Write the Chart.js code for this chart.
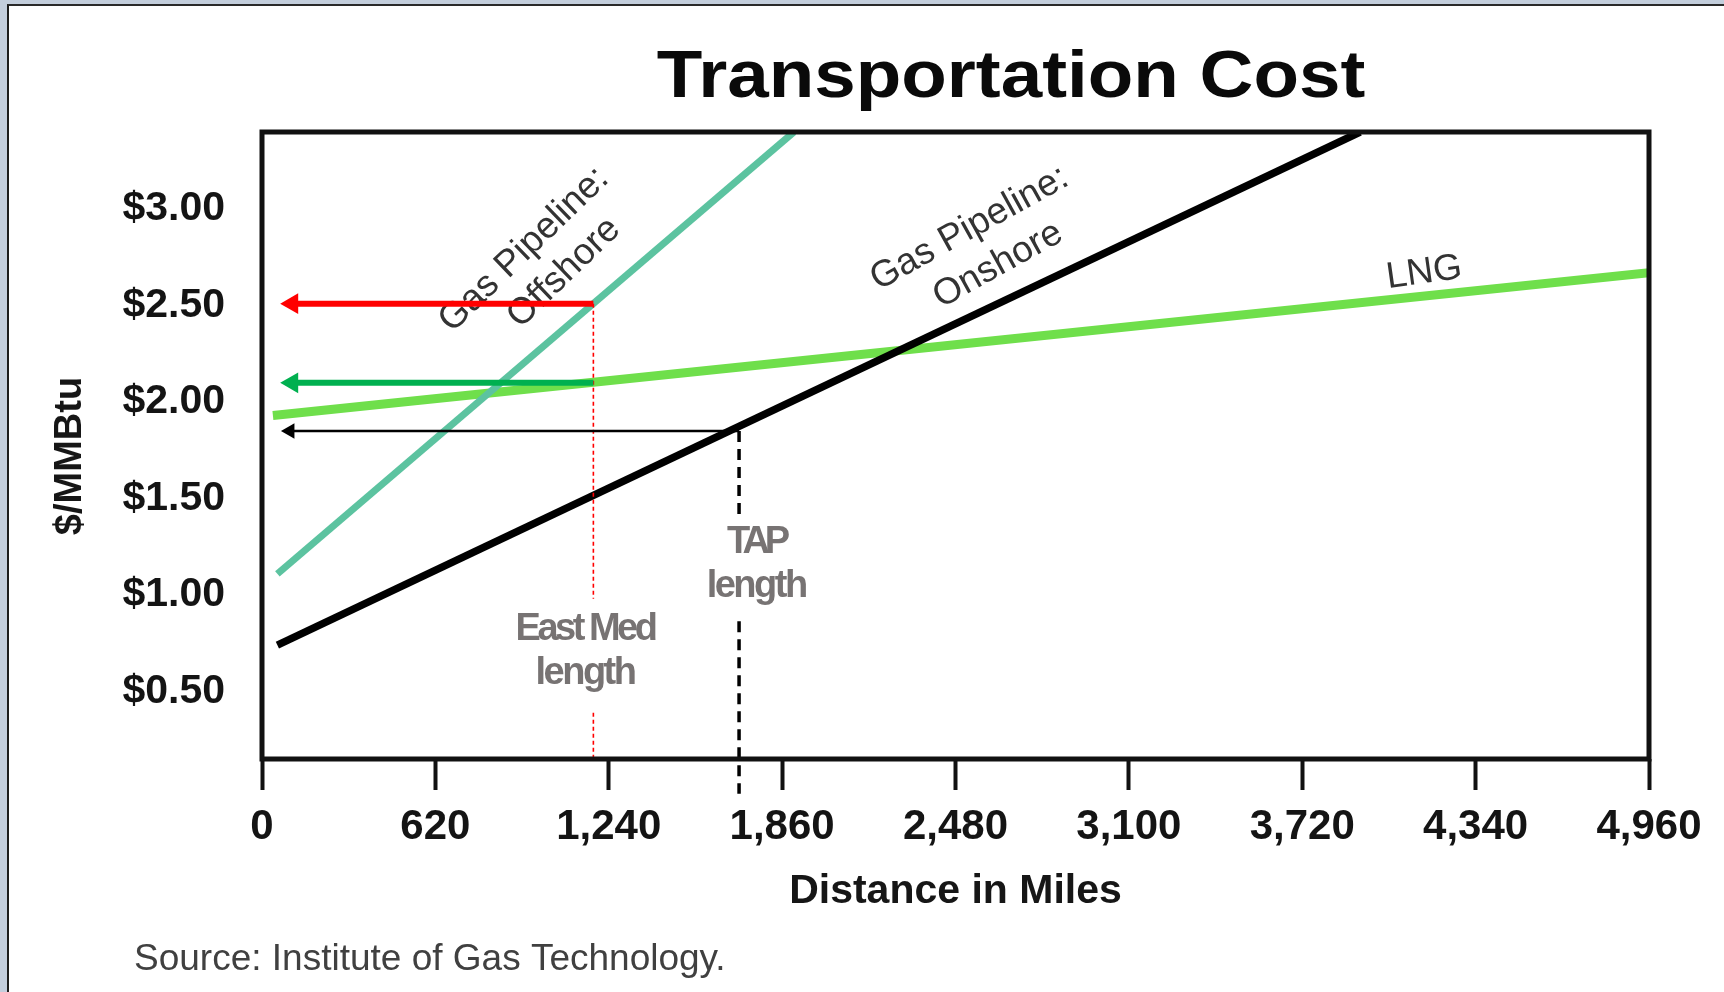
<!DOCTYPE html>
<html>
<head>
<meta charset="utf-8">
<script src="https://cdn.jsdelivr.net/npm/chart.js@4/dist/chart.umd.min.js"></script>
<style>
  html, body { margin: 0; padding: 0; width: 1724px; height: 992px; overflow: hidden; background: #c3cedc; }
  #frame { position: absolute; left: 7px; top: 4px; width: 1717px; height: 988px; background: #ffffff;
           border-left: 2px solid #1c1c1c; border-top: 2px solid #2a2a2a; box-sizing: border-box; }
  #c { position: absolute; left: 0; top: 0; }
</style>
</head>
<body>
<div id="frame"></div>
<canvas id="c" width="1724" height="992"></canvas>
<script>
// ---------- data ----------
const xTickValues = [0, 620, 1240, 1860, 2480, 3100, 3720, 4340, 4960];
const yTickValues = [0.5, 1.0, 1.5, 2.0, 2.5, 3.0];

const offshoreMiles = [55, 1902];
const offshoreCost  = [1.11, 3.40];
const onshoreMiles  = [55, 3927];
const onshoreCost   = [0.74, 3.40];
const lngMiles      = [39, 4960];
const lngCost       = [1.93, 2.67];

const eastMedMiles        = 1185;
const eastMedOffshoreCost = 2.51;
const eastMedLngCost      = 2.10;
const tapMiles            = 1706;
const tapOnshoreCost      = 1.85;
const arrowEndMiles       = 108;

// dashed marker segments (cost values; null = gap for the text)
const eastMedDashCost = [2.51, 0.98, null, 0.39, 0.15];
const tapDashCost     = [1.85, 1.42, null, 0.864, -0.03];

const FONT = '"Liberation Sans", Arial, Helvetica, sans-serif';

function pts(xs, ys) { return xs.map((x, i) => ({ x: x, y: ys[i] })); }
function vline(xv, ys) { return ys.map(y => ({ x: xv, y: y })); }

// annotation anchors (data coordinates)
const lineLabels = [
  { text: 'Gas Pipeline:', x: 937,  y: 2.79, angle: -44 },
  { text: 'Offshore',      x: 1080, y: 2.67, angle: -44 },
  { text: 'Gas Pipeline:', x: 2530, y: 2.90, angle: -29 },
  { text: 'Onshore',       x: 2632, y: 2.71, angle: -29 },
  { text: 'LNG',           x: 4156, y: 2.67, angle: -8 }
];
const markerLabels = [
  { text: 'East Med', x: 1155, y: 0.821, spacing: -3.5 },
  { text: 'length',   x: 1155, y: 0.593, spacing: -2.5 },
  { text: 'TAP',      x: 1767, y: 1.272, spacing: -5 },
  { text: 'length',   x: 1767, y: 1.044, spacing: -2.5 }
];

const annotPlugin = {
  id: 'annot',
  beforeDatasetsDraw(chart) {
    const { ctx, scales: { x, y } } = chart;
    ctx.save();
    ctx.fillStyle = '#333333';
    ctx.font = '37px ' + FONT;
    ctx.textAlign = 'center';
    ctx.textBaseline = 'middle';
    lineLabels.forEach(l => {
      ctx.save();
      ctx.translate(x.getPixelForValue(l.x), y.getPixelForValue(l.y));
      ctx.rotate(l.angle * Math.PI / 180);
      ctx.fillText(l.text, 0, 0);
      ctx.restore();
    });
    ctx.fillStyle = '#777373';
    ctx.font = 'bold 38px ' + FONT;
    markerLabels.forEach(l => {
      ctx.letterSpacing = l.spacing + 'px';
      ctx.fillText(l.text, x.getPixelForValue(l.x), y.getPixelForValue(l.y));
    });
    ctx.letterSpacing = '0px';
    ctx.restore();
  },
  afterDatasetsDraw(chart) {
    const { ctx, chartArea: a } = chart;
    ctx.save();
    ctx.strokeStyle = '#111111';
    ctx.lineWidth = 5;
    ctx.strokeRect(a.left, a.top, a.right - a.left, a.bottom - a.top);
    ctx.restore();
  },
  afterDraw(chart) {
    const { ctx, chartArea: a } = chart;
    ctx.save();
    // title
    ctx.fillStyle = '#0a0a0a';
    ctx.font = 'bold 66px ' + FONT;
    ctx.textAlign = 'center';
    ctx.textBaseline = 'alphabetic';
    ctx.save();
    ctx.translate(1011, 97);
    ctx.scale(1.13, 1);
    ctx.fillText('Transportation Cost', 0, 0);
    ctx.restore();
    // x axis title
    ctx.fillStyle = '#161616';
    ctx.font = 'bold 41px ' + FONT;
    ctx.textBaseline = 'middle';
    ctx.fillText('Distance in Miles', (a.left + a.right) / 2, 892);
    // y axis title
    ctx.save();
    ctx.translate(71, 456);
    ctx.rotate(-Math.PI / 2);
    ctx.font = 'bold 38px ' + FONT;
    ctx.fillText('$/MMBtu', 0, 0);
    ctx.restore();
    // source
    ctx.fillStyle = '#404040';
    ctx.font = '37px ' + FONT;
    ctx.textAlign = 'left';
    ctx.textBaseline = 'alphabetic';
    ctx.fillText('Source: Institute of Gas Technology.', 134, 970);
    ctx.restore();
  }
};

const arrowPoint = (color, r) => ({
  pointStyle: 'triangle',
  pointRadius: [r, 0],
  pointRotation: -90,
  pointBackgroundColor: color,
  pointBorderColor: color,
  pointBorderWidth: 0
});

new Chart(document.getElementById('c'), {
  type: 'scatter',
  data: {
    datasets: [
      Object.assign({ label: 'TAP cost', data: pts([arrowEndMiles - 8, tapMiles], [tapOnshoreCost, tapOnshoreCost]),
        showLine: true, borderColor: '#000000', borderWidth: 2.5 }, arrowPoint('#000000', 9)),
      Object.assign({ label: 'EastMed LNG', data: pts([arrowEndMiles, eastMedMiles], [eastMedLngCost, eastMedLngCost]),
        showLine: true, borderColor: '#00b050', borderWidth: 6 }, arrowPoint('#00b050', 12)),
      Object.assign({ label: 'EastMed offshore', data: pts([arrowEndMiles, eastMedMiles], [eastMedOffshoreCost, eastMedOffshoreCost]),
        showLine: true, borderColor: '#ff0000', borderWidth: 6 }, arrowPoint('#ff0000', 12)),
      { label: 'EastMed length', data: vline(eastMedMiles, eastMedDashCost), showLine: true, spanGaps: false,
        borderColor: '#ff0000', borderWidth: 1.6, borderDash: [4, 3], pointRadius: 0 },
      { label: 'TAP length', data: vline(tapMiles, tapDashCost), showLine: true, spanGaps: false, clip: false,
        borderColor: '#000000', borderWidth: 3.5, borderDash: [11, 7], pointRadius: 0 },
      { label: 'Gas Pipeline: Onshore', data: pts(onshoreMiles, onshoreCost), showLine: true,
        borderColor: '#000000', borderWidth: 7.5, pointRadius: 0 },
      { label: 'Gas Pipeline: Offshore', data: pts(offshoreMiles, offshoreCost), showLine: true,
        borderColor: '#5cc3a0', borderWidth: 7, pointRadius: 0 },
      { label: 'LNG', data: pts(lngMiles, lngCost), showLine: true,
        borderColor: '#6fdf4b', borderWidth: 9, pointRadius: 0 }
    ]
  },
  options: {
    responsive: false,
    animation: false,
    devicePixelRatio: 1,
    events: [],
    layout: { padding: { left: 0, top: 132, right: 75, bottom: 133 } },
    plugins: { legend: { display: false }, tooltip: { enabled: false }, title: { display: false } },
    scales: {
      x: {
        type: 'linear', min: 0, max: 4960,
        afterBuildTicks: s => { s.ticks = xTickValues.map(v => ({ value: v })); },
        afterFit: s => { s.height = 100; s.paddingLeft = 0; s.paddingRight = 0; },
        ticks: {
          callback: v => v.toLocaleString('en-US'),
          font: { family: FONT, size: 42, weight: 'bold' },
          color: '#141414', padding: 12, maxRotation: 0, autoSkip: false
        },
        grid: { display: true, drawOnChartArea: false, drawTicks: true, tickLength: 31, tickWidth: 4, tickColor: '#111111' },
        border: { display: false }
      },
      y: {
        type: 'linear', min: 0.15, max: 3.4,
        afterBuildTicks: s => { s.ticks = yTickValues.map(v => ({ value: v })); },
        afterFit: s => { s.width = 262; s.paddingTop = 0; s.paddingBottom = 0; },
        ticks: {
          callback: v => '$' + Number(v).toFixed(2),
          font: { family: FONT, size: 41, weight: 'bold' },
          color: '#141414', padding: 37, autoSkip: false
        },
        grid: { display: false, drawTicks: false },
        border: { display: false }
      }
    }
  },
  plugins: [annotPlugin]
});
</script>
</body>
</html>
